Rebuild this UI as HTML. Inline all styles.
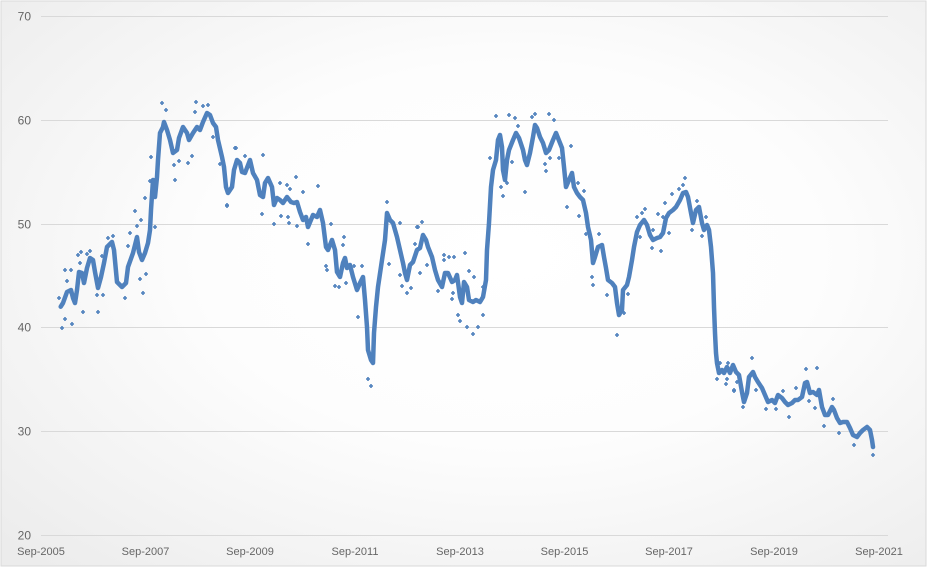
<!DOCTYPE html>
<html><head><meta charset="utf-8"><style>
html,body{margin:0;padding:0;width:928px;height:568px;overflow:hidden;background:#fff}
svg{display:block}
text{font-family:"Liberation Sans",sans-serif;fill:#666}
</style></head><body>
<svg width="928" height="568" viewBox="0 0 928 568" xmlns="http://www.w3.org/2000/svg">
<defs>
<radialGradient id="bg" cx="55%" cy="45%" r="75%">
<stop offset="0" stop-color="#ffffff"/>
<stop offset="0.45" stop-color="#fdfdfd"/>
<stop offset="1" stop-color="#ececec"/>
</radialGradient>
</defs>
<rect x="1" y="1" width="925" height="565" fill="url(#bg)" stroke="#d9d9d9" stroke-width="1"/>
<g stroke="#d9d9d9" stroke-width="1">
<line x1="41" y1="16.5" x2="888" y2="16.5"/>
<line x1="41" y1="120.5" x2="888" y2="120.5"/>
<line x1="41" y1="224.5" x2="888" y2="224.5"/>
<line x1="41" y1="327.5" x2="888" y2="327.5"/>
<line x1="41" y1="431.5" x2="888" y2="431.5"/>
<line x1="41" y1="535.5" x2="888" y2="535.5"/>
</g>
<g font-size="12" text-anchor="end">
<text x="31" y="20.5">70</text>
<text x="31" y="124.5">60</text>
<text x="31" y="228.5">50</text>
<text x="31" y="331.5">40</text>
<text x="31" y="435.5">30</text>
<text x="31" y="539.5">20</text>
</g>
<g font-size="11" text-anchor="middle">
<text x="41" y="555">Sep-2005</text>
<text x="145.5" y="555">Sep-2007</text>
<text x="250" y="555">Sep-2009</text>
<text x="355" y="555">Sep-2011</text>
<text x="460" y="555">Sep-2013</text>
<text x="564.5" y="555">Sep-2015</text>
<text x="669" y="555">Sep-2017</text>
<text x="774" y="555">Sep-2019</text>
<text x="879" y="555">Sep-2021</text>
</g>
<polyline fill="none" stroke="#4f81bd" stroke-width="4.5" stroke-linejoin="round" stroke-linecap="round" points="60.7,306.7 63,303 67,292 71,290 73,298 75,303 77,290 79,272 82,273 84,283 87,268 90,258 93,260 95,272 98,288 101,277 104,263 107,247 112,242 114,250 117,282 122,287 126,283 128,267 133,253 137,237 139,252 142,260 145,253 148,243 150,230 151,210 153,180 155,197 157,177 158,160 160,133 163,127 164,122 167,130 170,140 173,153 177,150 179,138 183,127 187,133 189,140 193,133 197,127 200,130 203,122 207,113 210,115 213,123 216,127 218,140 222,157 224,167 226,187 228,193 232,187 234,170 237,160 240,163 242,172 245,173 250,160 253,173 257,180 260,195 263,197 265,183 268,178 272,187 274,205 277,198 280,200 283,203 287,197 291,202 294,203 297,202 300,212 303,220 306,217 308,227 313,215 317,217 320,210 323,223 326,247 328,250 332,240 335,250 337,272 340,277 343,263 345,258 347,268 350,265 353,277 357,290 360,283 363,277 365,300 367,327 368,350 371,360 373,363 374,333 376,307 378,287 382,260 385,240 387,213 390,220 393,223 397,237 400,250 403,263 405,273 407,280 410,265 413,262 417,250 420,248 423,235 426,240 428,247 432,257 435,270 438,280 442,287 445,273 448,273 452,282 455,280 457,275 460,297 462,303 464,282 467,287 469,300 473,302 476,300 480,302 483,297 486,280 487,250 489,223 491,187 493,170 496,160 498,140 500,135 502,147 503,170 505,180 507,160 509,150 513,140 516,133 519,138 523,150 525,160 527,165 530,153 533,137 535,125 537,128 540,137 543,143 546,153 549,150 553,140 556,133 558,138 562,148 564,167 566,187 569,180 572,173 574,187 577,193 580,197 583,200 586,213 588,227 591,240 593,263 595,257 598,247 602,245 604,257 606,268 608,280 612,283 615,287 617,303 619,315 622,310 623,290 627,285 629,277 632,260 634,247 637,232 640,225 644,220 647,225 650,235 653,240 657,238 660,237 663,233 666,218 669,213 673,210 676,207 680,200 683,193 686,192 688,197 691,213 693,223 696,210 699,207 702,223 704,230 707,225 709,230 711,247 713,273 714,307 715,333 716,353 717,363 719,373 722,370 724,373 727,367 730,373 733,365 736,372 739,375 742,392 744,402 747,393 749,377 753,372 755,377 758,382 762,388 765,395 768,402 772,400 775,403 778,395 782,398 785,402 788,405 792,403 795,400 798,400 802,397 805,383 807,382 810,393 813,392 817,395 819,390 822,407 825,415 828,415 832,407 834,410 837,418 840,423 843,422 847,422 850,428 853,435 857,437 860,433 863,430 867,427 870,430 872,440 873,447"/>
<path fill="none" stroke="#4f81bd" stroke-width="1.6" d="
M160,103h4M162,101v4 M164,110h4M166,108v4 M194,102h4M196,100v4 M193,112h4M195,110v4 M201,106h4M203,104v4 M206,105h4M208,103v4
M149,157h4M151,155v4 M148,181h4M150,179v4 M143,198h4M145,196v4 M133,211h4M135,209v4 M139,220h4M141,218v4 M135,226h4M137,224v4
M153,227h4M155,225v4 M106,238h4M108,236v4 M111,236h4M113,234v4 M128,233h4M130,231v4 M126,246h4M128,244v4 M79,252h4M81,250v4
M88,251h4M90,249v4 M85,254h4M87,252v4 M76,255h4M78,253v4 M100,256h4M102,254v4 M78,263h4M80,261v4 M63,270h4M65,268v4
M69,270h4M71,268v4 M65,281h4M67,279v4 M138,279h4M140,277v4 M144,274h4M146,272v4 M141,293h4M143,291v4 M123,298h4M125,296v4
M95,295h4M97,293v4 M101,295h4M103,293v4 M57,298h4M59,296v4 M81,312h4M83,310v4 M96,312h4M98,310v4 M63,319h4M65,317v4
M70,324h4M72,322v4 M60,328h4M62,326v4 M172,165h4M174,163v4 M173,180h4M175,178v4 M177,161h4M179,159v4 M186,163h4M188,161v4
M190,156h4M192,154v4 M225,206h4M227,204v4 M218,164h4M220,162v4 M211,137h4M213,135v4 M233,148h4M235,146v4
M234,148h4M236,146v4 M243,156h4M245,154v4 M261,155h4M263,153v4 M225,205h4M227,203v4 M294,177h4M296,175v4 M316,186h4M318,184v4
M301,192h4M303,190v4 M278,183h4M280,181v4 M285,185h4M287,183v4 M288,189h4M290,187v4 M260,214h4M262,212v4 M272,224h4M274,222v4
M279,216h4M281,214v4 M286,217h4M288,215v4 M287,223h4M289,221v4 M295,226h4M297,224v4 M306,244h4M308,242v4 M329,224h4M331,222v4
M342,237h4M344,235v4 M341,245h4M343,243v4 M324,266h4M326,264v4 M325,270h4M327,268v4 M333,286h4M335,284v4 M337,287h4M339,285v4
M344,283h4M346,281v4 M352,266h4M354,264v4 M360,266h4M362,264v4 M356,317h4M358,315v4 M366,379h4M368,377v4 M369,386h4M371,384v4
M385,202h4M387,200v4 M398,223h4M400,221v4 M387,264h4M389,262v4 M398,275h4M400,273v4 M400,286h4M402,284v4 M405,293h4M407,291v4
M413,244h4M415,242v4 M416,227h4M418,225v4 M418,273h4M420,271v4 M415,227h4M417,225v4 M420,222h4M422,220v4 M409,288h4M411,286v4
M425,265h4M427,263v4 M442,255h4M444,253v4 M447,257h4M449,255v4 M452,257h4M454,255v4 M463,253h4M465,251v4 M467,271h4M469,269v4
M472,277h4M474,275v4 M442,260h4M444,258v4 M436,291h4M438,289v4 M450,299h4M452,297v4 M451,293h4M453,291v4 M456,315h4M458,313v4
M458,321h4M460,319v4 M465,327h4M467,325v4 M471,334h4M473,332v4 M476,327h4M478,325v4 M481,315h4M483,313v4 M481,287h4M483,285v4
M494,116h4M496,114v4 M507,115h4M509,113v4 M513,118h4M515,116v4 M516,126h4M518,124v4 M533,114h4M535,112v4 M547,114h4M549,112v4
M552,120h4M554,118v4 M530,117h4M532,115v4 M523,192h4M525,190v4 M501,196h4M503,194v4 M499,187h4M501,185v4 M505,183h4M507,181v4
M510,162h4M512,160v4 M488,158h4M490,156v4 M544,171h4M546,169v4 M543,164h4M545,162v4 M548,158h4M550,156v4 M557,158h4M559,156v4
M569,146h4M571,144v4 M576,183h4M578,181v4 M582,191h4M584,189v4 M565,207h4M567,205v4 M577,216h4M579,214v4 M584,234h4M586,232v4
M597,234h4M599,232v4 M590,277h4M592,275v4 M591,285h4M593,283v4 M605,295h4M607,293v4
M683,178h4M685,176v4 M681,185h4M683,183v4 M677,189h4M679,187v4 M670,194h4M672,192v4 M663,203h4M665,201v4 M656,214h4M658,212v4
M661,217h4M663,215v4 M643,209h4M645,207v4 M640,213h4M642,211v4 M635,217h4M637,215v4 M695,201h4M697,199v4 M704,217h4M706,215v4
M700,236h4M702,234v4 M690,230h4M692,228v4 M667,233h4M669,231v4 M659,251h4M661,249v4 M651,230h4M653,228v4 M650,248h4M652,246v4
M638,237h4M640,235v4 M626,294h4M628,292v4 M622,313h4M624,311v4 M605,295h4M607,293v4 M615,335h4M617,333v4 M735,382h4M737,380v4
M732,390h4M734,388v4 M724,384h4M726,382v4 M715,379h4M717,377v4 M726,363h4M728,361v4 M718,363h4M720,361v4
M750,358h4M752,356v4 M804,369h4M806,367v4 M815,368h4M817,366v4 M732,391h4M734,389v4 M724,384h4M726,382v4 M725,379h4M727,377v4
M754,390h4M756,388v4 M741,407h4M743,405v4 M764,409h4M766,407v4 M774,409h4M776,407v4 M787,417h4M789,415v4 M794,388h4M796,386v4
M813,408h4M815,406v4 M822,426h4M824,424v4 M831,399h4M833,397v4 M837,433h4M839,431v4 M852,445h4M854,443v4 M871,455h4M873,453v4
M807,401h4M809,399v4 M781,391h4M783,389v4"/>
</svg>
</body></html>
